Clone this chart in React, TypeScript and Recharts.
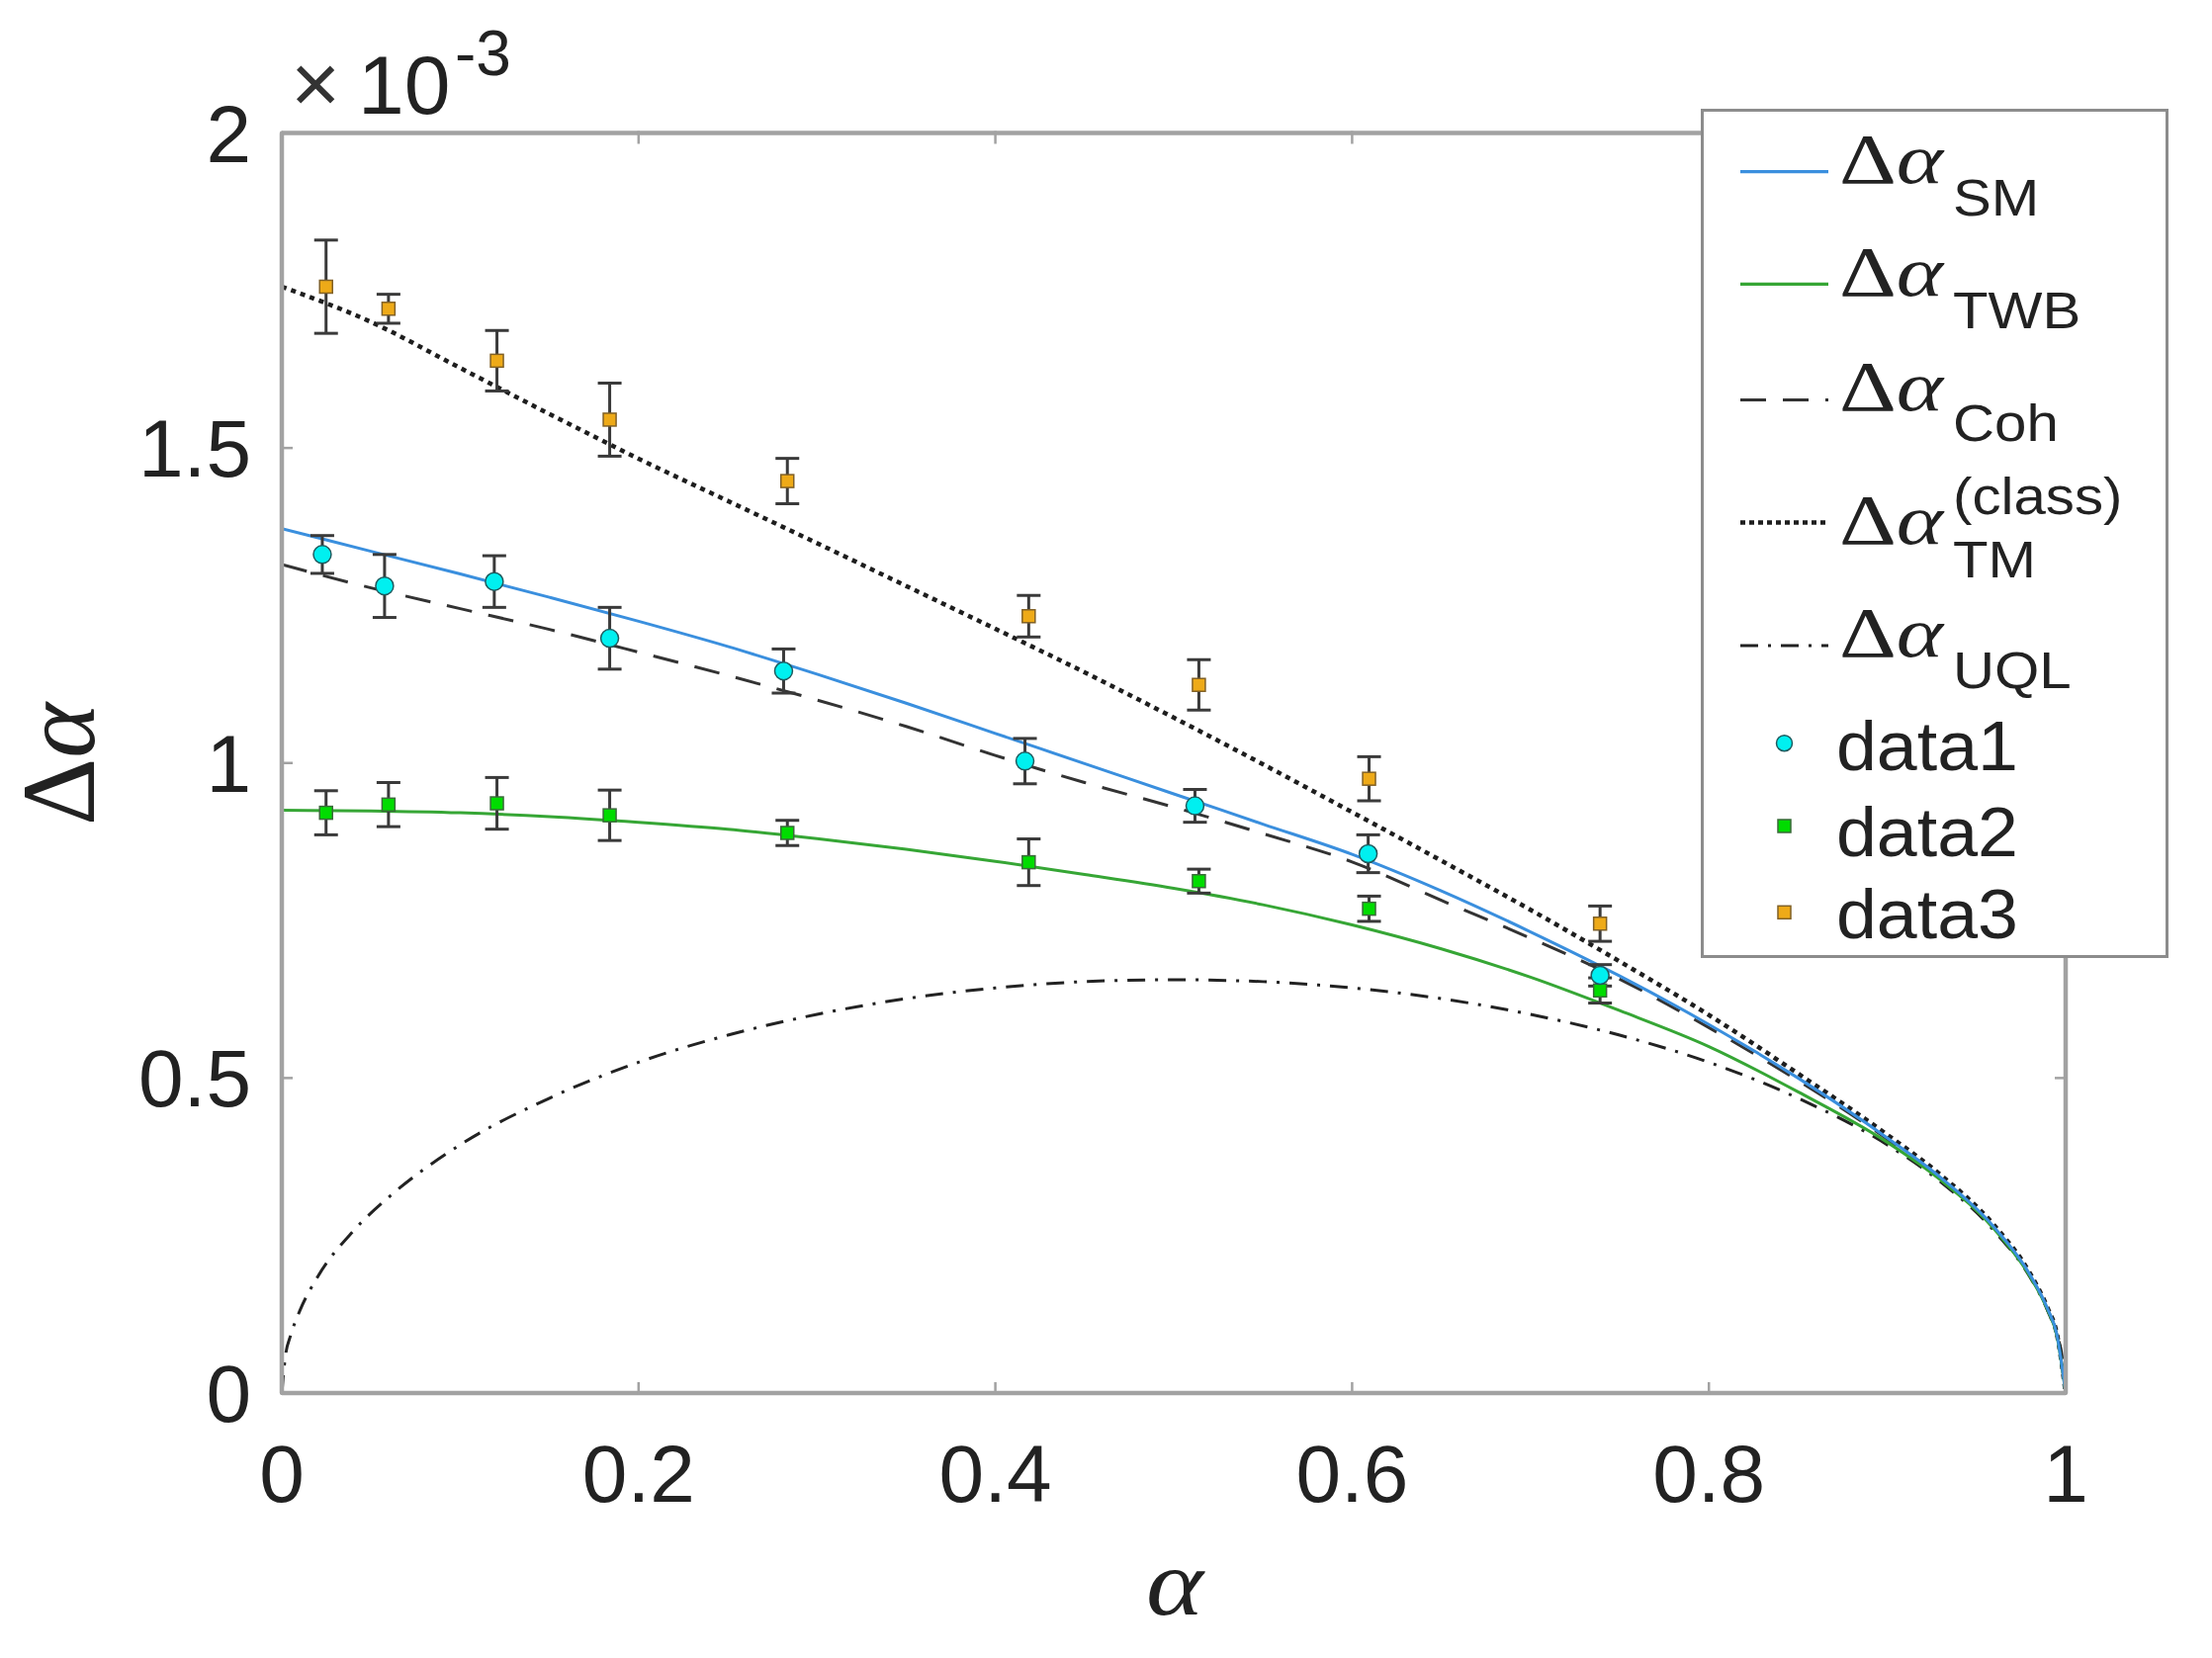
import React from 'react';
import { ComposedChart, Line, Scatter, XAxis, YAxis, ErrorBar, Legend } from 'recharts';

// ---------- data (Δα in units of 1e-3) ----------
const xTicks = [0, 0.2, 0.4, 0.6, 0.8, 1];
const yTicks = [0, 0.5, 1, 1.5, 2];
const xTickLabels = ['0', '0.2', '0.4', '0.6', '0.8', '1'];
const yTickLabels = ['0', '0.5', '1', '1.5', '2'];

const curveAlpha = [0, 0.05, 0.1, 0.15, 0.2, 0.25, 0.3, 0.35, 0.4, 0.45, 0.5, 0.55, 0.6, 0.65, 0.7, 0.75, 0.8, 0.85, 0.9, 0.93, 0.96, 0.98, 0.99, 0.995, 1];
const smValues = [1.372, 1.336, 1.3, 1.263, 1.225, 1.185, 1.141, 1.095, 1.047, 0.999, 0.951, 0.903, 0.855, 0.797, 0.732, 0.662, 0.585, 0.5, 0.405, 0.342, 0.263, 0.188, 0.133, 0.094, 0];
const twbValues = [0.925, 0.924, 0.921, 0.915, 0.906, 0.895, 0.88, 0.863, 0.844, 0.823, 0.801, 0.775, 0.743, 0.705, 0.66, 0.607, 0.55, 0.478, 0.398, 0.338, 0.26, 0.185, 0.131, 0.092, 0];
const cohValues = [1.315, 1.278, 1.245, 1.212, 1.176, 1.139, 1.1, 1.058, 1.012, 0.969, 0.93, 0.888, 0.843, 0.782, 0.722, 0.657, 0.58, 0.496, 0.403, 0.34, 0.261, 0.186, 0.132, 0.093, 0];
const tmValues = [1.756, 1.7, 1.627, 1.554, 1.483, 1.416, 1.349, 1.281, 1.213, 1.144, 1.072, 0.998, 0.922, 0.845, 0.767, 0.685, 0.6, 0.507, 0.41, 0.346, 0.266, 0.19, 0.134, 0.095, 0];

const uqlAlpha = [0, 0.002, 0.005, 0.01, 0.02, 0.04, 0.06, 0.1, 0.15, 0.2, 0.25, 0.3, 0.35, 0.4, 0.45, 0.5, 0.55, 0.6, 0.65, 0.7, 0.75, 0.8, 0.85, 0.9, 0.93, 0.96, 0.98, 0.99, 0.995, 0.998, 1];
const uqlValues = [0, 0.058, 0.092, 0.13, 0.184, 0.257, 0.311, 0.394, 0.468, 0.525, 0.568, 0.601, 0.626, 0.643, 0.653, 0.656, 0.653, 0.643, 0.626, 0.601, 0.568, 0.525, 0.468, 0.394, 0.335, 0.257, 0.184, 0.13, 0.092, 0.058, 0];

const data1Alpha = [0.0227, 0.0576, 0.1191, 0.1838, 0.2813, 0.4166, 0.5119, 0.609, 0.739];
const data1Values = [1.331, 1.281, 1.288, 1.198, 1.146, 1.003, 0.932, 0.856, 0.663];
const data1Err = [0.03, 0.05, 0.041, 0.049, 0.035, 0.036, 0.026, 0.03, 0.017];

const data2Alpha = [0.0248, 0.0598, 0.1206, 0.1838, 0.2834, 0.4187, 0.5141, 0.6095, 0.739];
const data2Values = [0.921, 0.934, 0.936, 0.917, 0.889, 0.8425, 0.8125, 0.7687, 0.639];
const data2Err = [0.035, 0.035, 0.041, 0.04, 0.02, 0.037, 0.019, 0.02, 0.02];

const data3Alpha = [0.0248, 0.0598, 0.1206, 0.1838, 0.2834, 0.4187, 0.5141, 0.6095, 0.739];
const data3Values = [1.756, 1.721, 1.6385, 1.545, 1.4475, 1.233, 1.124, 0.975, 0.745];
const data3Err = [0.074, 0.023, 0.048, 0.058, 0.036, 0.033, 0.04, 0.035, 0.028];

const toCurve = (xs: number[], ys: number[]) => xs.map((x, i) => ({ x, y: ys[i] }));
const toPoints = (xs: number[], ys: number[], es: number[]) => xs.map((x, i) => ({ x, y: ys[i], e: es[i] }));

const smData = toCurve(curveAlpha, smValues);
const twbData = toCurve(curveAlpha, twbValues);
const cohData = toCurve(curveAlpha, cohValues);
const tmData = toCurve(curveAlpha, tmValues);
const uqlData = toCurve(uqlAlpha, uqlValues);
const data1 = toPoints(data1Alpha, data1Values, data1Err);
const data2 = toPoints(data2Alpha, data2Values, data2Err);
const data3 = toPoints(data3Alpha, data3Values, data3Err);

// ---------- styles ----------
const W = 2237;
const H = 1677;
const SANS = '"Liberation Sans", Arial, Helvetica, sans-serif';
const SERIF = '"Liberation Serif", "Times New Roman", serif';
const AXIS_COLOR = '#a2a2a2';
const TEXT_COLOR = '#222222';
const BLUE = '#3a8fde';
const GREEN = '#36a635';
const DARK = '#1e1e1e';
const TICK_LEN = 13;
const LABEL_SIZE = 82;
const TM_DASH = '5 5';
const COH_DASH = '26 17';
const UQL_DASH = '18 10 3 10';

const fmtX = (v: number) => xTickLabels[xTicks.indexOf(v)] ?? String(v);
const fmtY = (v: number) => yTickLabels[yTicks.indexOf(v)] ?? String(v);

const BottomTick = (props: any) => {
  const { x, y, payload } = props;
  return (
    <g>
      <line x1={x} y1={y} x2={x} y2={y - TICK_LEN} stroke={AXIS_COLOR} strokeWidth={2.5} />
      <text x={x} y={y + 108} textAnchor="middle" fontSize={LABEL_SIZE} fontFamily={SANS} fill={TEXT_COLOR}>
        {fmtX(payload.value)}
      </text>
    </g>
  );
};

const TopTick = (props: any) => {
  const { x, y } = props;
  return <line x1={x} y1={y} x2={x} y2={y + TICK_LEN} stroke={AXIS_COLOR} strokeWidth={2.5} />;
};

const LeftTick = (props: any) => {
  const { x, y, payload } = props;
  return (
    <g>
      <line x1={x} y1={y} x2={x + TICK_LEN} y2={y} stroke={AXIS_COLOR} strokeWidth={2.5} />
      <text x={x - 29} y={y + 29} textAnchor="end" fontSize={LABEL_SIZE} fontFamily={SANS} fill={TEXT_COLOR}>
        {fmtY(payload.value)}
      </text>
    </g>
  );
};

const RightTick = (props: any) => {
  const { x, y } = props;
  return <line x1={x} y1={y} x2={x - TICK_LEN} y2={y} stroke={AXIS_COLOR} strokeWidth={2.5} />;
};

const renderYLabel = () => (
  <g>
    <text
      x={95}
      y={773}
      transform="rotate(-90 95 773)"
      textAnchor="middle"
      fontSize={106}
      fontFamily={SERIF}
      fill={TEXT_COLOR}
    >
      Δ<tspan fontStyle="italic">α</tspan>
    </text>
    <text x={294} y={114} fontSize={86} fontFamily={SANS} fill="#333">×</text>
    <text x={362} y={115} fontSize={84} fontFamily={SANS} fill={TEXT_COLOR}>10</text>
    <text x={460} y={76} fontSize={64} fontFamily={SANS} fill={TEXT_COLOR}>-3</text>
  </g>
);

const renderXLabel = () => (
  <text
    transform="translate(1188 1633) scale(1.15 1)"
    x={0}
    y={0}
    textAnchor="middle"
    fontSize={96}
    fontStyle="italic"
    fontFamily={SERIF}
    fill={TEXT_COLOR}
  >
    α
  </text>
);

const CircleMarker = (props: any) => {
  const { cx, cy } = props;
  if (cx == null || cy == null) return null;
  return <circle cx={cx} cy={cy} r={9} fill="#00f0f0" stroke="#205a5e" strokeWidth={1.5} />;
};

const GreenSquare = (props: any) => {
  const { cx, cy } = props;
  if (cx == null || cy == null) return null;
  return <rect x={cx - 6.5} y={cy - 6.5} width={13} height={13} fill="#00dc00" stroke="#3a6a3a" strokeWidth={1.5} />;
};

const OrangeSquare = (props: any) => {
  const { cx, cy } = props;
  if (cx == null || cy == null) return null;
  return <rect x={cx - 6.5} y={cy - 6.5} width={13} height={13} fill="#eeaa18" stroke="#806026" strokeWidth={1.5} />;
};

// ---------- legend ----------
const legendLines = [
  { sub: 'SM', sup: '', stroke: BLUE, dash: undefined as string | undefined, lineY: 63.6, base: 75, subBase: 108, width: 3.2 },
  { sub: 'TWB', sup: '', stroke: GREEN, dash: undefined, lineY: 177.3, base: 189, subBase: 221.5, width: 3.2 },
  { sub: 'Coh', sup: '', stroke: '#333', dash: COH_DASH, lineY: 294.4, base: 305, subBase: 336, width: 3 },
  { sub: 'TM', sup: '(class)', stroke: DARK, dash: '5 4', lineY: 418.4, base: 439.6, subBase: 474, width: 4.5 },
  { sub: 'UQL', sup: '', stroke: '#222', dash: UQL_DASH, lineY: 543, base: 554.4, subBase: 586, width: 3 },
];

const LegendContent = () => (
  <svg width={474} height={860} style={{ display: 'block', overflow: 'visible' }}>
    <rect x={1.5} y={1.5} width={470} height={856} fill="#ffffff" stroke="#8c8c8c" strokeWidth={3} />
    {legendLines.map((l) => (
      <g key={l.sub}>
        <line x1={40} y1={l.lineY} x2={129} y2={l.lineY} stroke={l.stroke} strokeWidth={l.width} strokeDasharray={l.dash} />
        <text transform={`translate(140 ${l.base}) scale(1.25 1)`} x={0} y={0} fontSize={72} fontFamily={SERIF} fill={TEXT_COLOR}>
          Δ<tspan fontStyle="italic">α</tspan>
        </text>
        <text transform={`translate(255 ${l.subBase}) scale(1.12 1)`} x={0} y={0} fontSize={52} fontFamily={SANS} fill={TEXT_COLOR}>
          {l.sub}
        </text>
        {l.sup ? (
          <text transform="translate(255 410) scale(1.12 1)" x={0} y={0} fontSize={52} fontFamily={SANS} fill={TEXT_COLOR}>
            {l.sup}
          </text>
        ) : null}
      </g>
    ))}
    <circle cx={84.5} cy={641.7} r={8} fill="#00f0f0" stroke="#205a5e" strokeWidth={1.5} />
    <rect x={78} y={719} width={13} height={13} fill="#00dc00" stroke="#3a6a3a" strokeWidth={1.5} />
    <rect x={78} y={806.3} width={13} height={13} fill="#eeaa18" stroke="#806026" strokeWidth={1.5} />
    <text transform="translate(137 669) scale(1.05 1)" x={0} y={0} fontSize={70} fontFamily={SANS} fill={TEXT_COLOR}>data1</text>
    <text transform="translate(137 755.5) scale(1.05 1)" x={0} y={0} fontSize={70} fontFamily={SANS} fill={TEXT_COLOR}>data2</text>
    <text transform="translate(137 839) scale(1.05 1)" x={0} y={0} fontSize={70} fontFamily={SANS} fill={TEXT_COLOR}>data3</text>
  </svg>
);

export default function App() {
  return (
    <div style={{ position: 'absolute', left: 0, top: 0, width: W, height: H, background: '#ffffff' }}>
      <ComposedChart width={W} height={H} margin={{ top: 133.5, right: 147, bottom: 0, left: 0 }}>
        <XAxis
          xAxisId={0}
          dataKey="x"
          type="number"
          domain={[0, 1]}
          ticks={xTicks}
          interval={0}
          orientation="bottom"
          height={268}
          tickSize={0}
          tickLine={false}
          tick={BottomTick}
          axisLine={{ stroke: AXIS_COLOR, strokeWidth: 4.5 }}
          allowDataOverflow
          label={renderXLabel}
        />
        <XAxis
          xAxisId="top"
          dataKey="x"
          type="number"
          domain={[0, 1]}
          ticks={xTicks}
          interval={0}
          orientation="top"
          height={1}
          tickSize={0}
          tickLine={false}
          tick={TopTick}
          axisLine={{ stroke: AXIS_COLOR, strokeWidth: 4.5 }}
          allowDataOverflow
        />
        <YAxis
          yAxisId={0}
          dataKey="y"
          type="number"
          domain={[0, 2]}
          ticks={yTicks}
          interval={0}
          orientation="left"
          width={285}
          tickSize={0}
          tickLine={false}
          tick={LeftTick}
          axisLine={{ stroke: AXIS_COLOR, strokeWidth: 4.5 }}
          allowDataOverflow
          label={renderYLabel}
        />
        <YAxis
          yAxisId="right"
          dataKey="y"
          type="number"
          domain={[0, 2]}
          ticks={yTicks}
          interval={0}
          orientation="right"
          width={1}
          tickSize={0}
          tickLine={false}
          tick={RightTick}
          axisLine={{ stroke: AXIS_COLOR, strokeWidth: 4.5 }}
          allowDataOverflow
        />
        <Legend
          layout="vertical"
          align="center"
          verticalAlign="middle"
          content={LegendContent}
          wrapperStyle={{ left: 1720, top: 110, width: 474, height: 860 }}
        />
        <Line data={uqlData} dataKey="y" type="monotone" stroke="#222" strokeWidth={3} strokeDasharray={UQL_DASH} dot={false} activeDot={false} isAnimationActive={false} />
        <Line data={tmData} dataKey="y" type="monotone" stroke={DARK} strokeWidth={4.5} strokeDasharray={TM_DASH} dot={false} activeDot={false} isAnimationActive={false} />
        <Line data={cohData} dataKey="y" type="monotone" stroke="#333" strokeWidth={3} strokeDasharray={COH_DASH} dot={false} activeDot={false} isAnimationActive={false} />
        <Line data={twbData} dataKey="y" type="monotone" stroke={GREEN} strokeWidth={3} dot={false} activeDot={false} isAnimationActive={false} />
        <Line data={smData} dataKey="y" type="monotone" stroke={BLUE} strokeWidth={3} dot={false} activeDot={false} isAnimationActive={false} />
        <Scatter data={data3} dataKey="y" shape={OrangeSquare} isAnimationActive={false}>
          <ErrorBar dataKey="e" direction="y" width={12} stroke="#3a3a3a" strokeWidth={3} />
        </Scatter>
        <Scatter data={data2} dataKey="y" shape={GreenSquare} isAnimationActive={false}>
          <ErrorBar dataKey="e" direction="y" width={12} stroke="#3a3a3a" strokeWidth={3} />
        </Scatter>
        <Scatter data={data1} dataKey="y" shape={CircleMarker} isAnimationActive={false}>
          <ErrorBar dataKey="e" direction="y" width={12} stroke="#3a3a3a" strokeWidth={3} />
        </Scatter>
      </ComposedChart>
    </div>
  );
}
